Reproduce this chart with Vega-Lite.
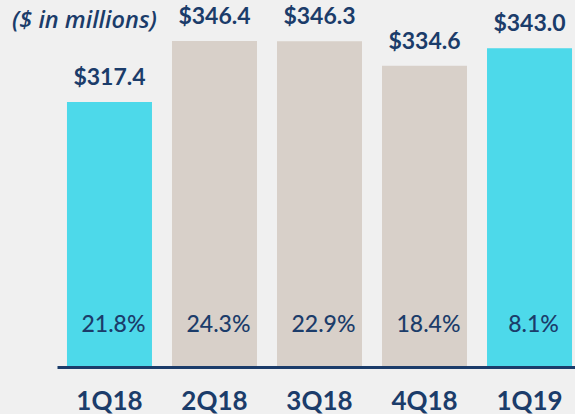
{
  "$schema": "https://vega.github.io/schema/vega-lite/v6.json",
  "width": 518,
  "height": 367,
  "autosize": {"type": "none"},
  "padding": {"left": 57, "top": 0, "right": 0, "bottom": 47},
  "background": "#F0F0F0",
  "config": {"view": {"stroke": null}},
  "title": {
    "text": "($ in millions)",
    "anchor": "start",
    "frame": "group",
    "orient": "top",
    "font": "Open Sans",
    "fontStyle": "italic",
    "fontWeight": 600,
    "fontSize": 23.5,
    "color": "#1B3C6A",
    "dx": -45,
    "dy": 22,
    "offset": -29,
    "baseline": "alphabetic"
  },
  "data": {
    "values": [
      {"quarter": "1Q18", "value": 317.4, "label": "$317.4", "pct": "21.8%", "group": "a"},
      {"quarter": "2Q18", "value": 346.4, "label": "$346.4", "pct": "24.3%", "group": "b"},
      {"quarter": "3Q18", "value": 346.3, "label": "$346.3", "pct": "22.9%", "group": "b"},
      {"quarter": "4Q18", "value": 334.6, "label": "$334.6", "pct": "18.4%", "group": "b"},
      {"quarter": "1Q19", "value": 343.0, "label": "$343.0", "pct": "8.1%", "group": "a"}
    ]
  },
  "encoding": {
    "x": {
      "field": "quarter",
      "type": "nominal",
      "sort": null,
      "scale": {"paddingInner": 0.1905, "paddingOuter": 0.0617, "align": 0.77},
      "axis": {
        "title": null,
        "labelAngle": 0,
        "ticks": false,
        "tickSize": 0,
        "labelPadding": 21,
        "labelFont": "Lato",
        "labelFontWeight": "bold",
        "labelFontSize": 26,
        "labelColor": "#1B3C6A",
        "domainColor": "#1B3C6A",
        "domainWidth": 3,
        "grid": false,
        "zindex": 1
      }
    }
  },
  "layer": [
    {
      "mark": {"type": "bar"},
      "encoding": {
        "y": {
          "field": "value",
          "type": "quantitative",
          "scale": {"domain": [191, 366], "zero": false, "nice": false},
          "axis": null
        },
        "y2": {"datum": 191},
        "color": {
          "field": "group",
          "type": "nominal",
          "scale": {"domain": ["a", "b"], "range": ["#4DD9EA", "#D8D0C9"]},
          "legend": null
        }
      }
    },
    {
      "mark": {
        "type": "text",
        "font": "Lato",
        "fontWeight": "bold",
        "fontSize": 23,
        "color": "#1B3C6A",
        "baseline": "alphabetic",
        "dy": -17
      },
      "encoding": {
        "y": {"field": "value", "type": "quantitative"},
        "text": {"field": "label"}
      }
    },
    {
      "mark": {
        "type": "text",
        "font": "Lato",
        "fontWeight": 500,
        "fontSize": 23,
        "color": "#1B3C6A",
        "baseline": "alphabetic",
        "dx": 4,
        "dy": -35
      },
      "encoding": {
        "y": {"datum": 191, "type": "quantitative"},
        "text": {"field": "pct"}
      }
    }
  ]
}
